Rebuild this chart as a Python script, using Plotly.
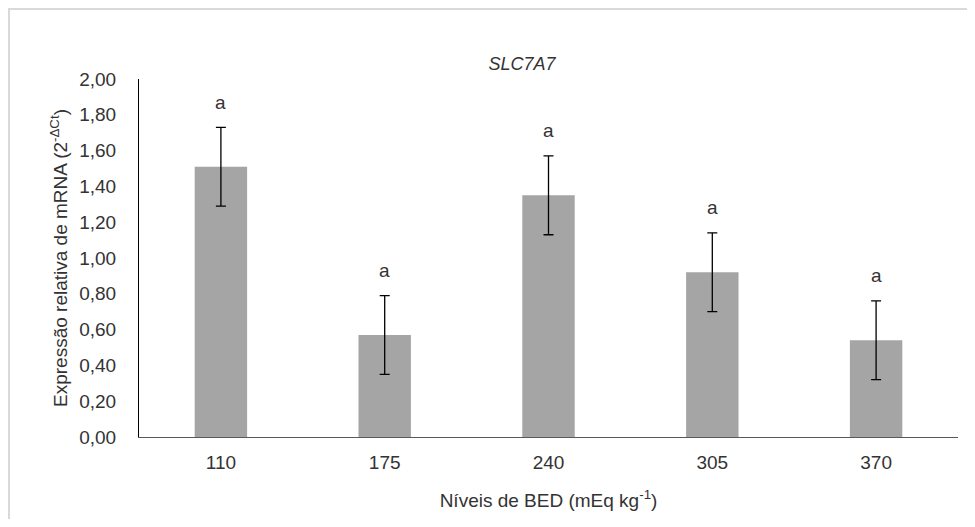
import plotly.graph_objects as go

categories = ["110", "175", "240", "305", "370"]
values = [1.51, 0.57, 1.35, 0.92, 0.54]
errors = [0.22, 0.22, 0.22, 0.22, 0.22]
letters = ["a", "a", "a", "a", "a"]
y_ticks = [0, 0.2, 0.4, 0.6, 0.8, 1.0, 1.2, 1.4, 1.6, 1.8, 2.0]

FONT = "Liberation Sans, Arial, sans-serif"
TXT = "#333333"
FS = 19

W, H = 959, 511  # page body adds an 8px margin on each side

idx = list(range(len(categories)))

fig = go.Figure()
fig.add_trace(go.Bar(
    x=idx, y=values, width=0.32,
    marker=dict(color="#a5a5a5", line=dict(width=0)),
    error_y=dict(type="data", array=errors, visible=True,
                 color="#000000", thickness=1.3, width=5),
    showlegend=False,
))

for i, v, e, t in zip(idx, values, errors, letters):
    fig.add_annotation(x=i, y=v + e, text=t, showarrow=False,
                       yanchor="middle", yshift=25,
                       font=dict(family=FONT, size=FS, color=TXT))

# outer light frame
fig.add_shape(type="rect", xref="paper", yref="paper",
              x0=-0.1587, x1=1.05, y0=-0.3, y1=1.1955,
              line=dict(color="#d9d9d9", width=2), fillcolor="rgba(0,0,0,0)",
              layer="below")

fig.update_layout(
    width=W, height=H,
    margin=dict(l=131, r=9, t=71, b=82),
    paper_bgcolor="white", plot_bgcolor="white",
    separators=",.",
    font=dict(family=FONT, size=FS, color=TXT),
    title=dict(text="<i>SLC7A7</i>", x=514 / W, xref="container", xanchor="center",
               y=1 - 56 / H, yref="container", yanchor="middle",
               font=dict(family=FONT, size=18, color=TXT)),
)
fig.update_xaxes(
    range=[-0.5, len(categories) - 0.5],
    tickvals=idx, ticktext=categories,
    showline=True, linecolor="#595959", linewidth=1,
    showgrid=False, zeroline=False, ticks="", ticklabelstandoff=8,
    tickfont=dict(family=FONT, size=FS, color=TXT),
    title=dict(text="Níveis de BED (mEq kg<sup>-1</sup>)", standoff=21,
               font=dict(family=FONT, size=FS, color=TXT)),
)
fig.update_yaxes(
    range=[0, 2.0], tickvals=y_ticks, tickformat=".2f",
    showline=True, linecolor="#000000", linewidth=1,
    showgrid=False, zeroline=False, ticks="", ticklabelstandoff=18,
    tickfont=dict(family=FONT, size=FS, color=TXT),
    title=dict(text="Expressão relativa de mRNA (2<sup>-ΔCt</sup>)", standoff=6,
               font=dict(family=FONT, size=FS, color=TXT)),
)

fig.write_html("out.html")
